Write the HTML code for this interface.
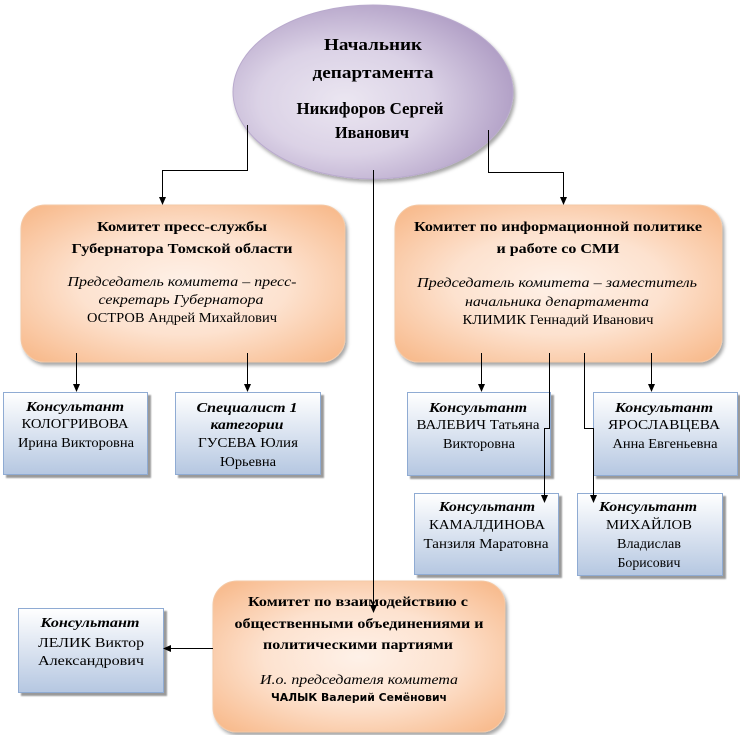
<!DOCTYPE html>
<html><head><meta charset="utf-8"><style>
html,body{margin:0;padding:0;background:#fff;}
svg{display:block;}
text{font-family:"Liberation Serif","Noto Serif CJK SC",serif;fill:#000;}
.b{font-weight:bold;}
.i{font-style:italic;}
.s{font-family:"DejaVu Sans","Liberation Sans",sans-serif;font-weight:bold;}
</style></head><body>
<svg width="740" height="735" viewBox="0 0 740 735" xmlns="http://www.w3.org/2000/svg">
<defs>
<radialGradient id="og" cx="50%" cy="50%" r="72%">
<stop offset="0" stop-color="#fef1e8"/>
<stop offset="0.45" stop-color="#fde2cf"/>
<stop offset="1" stop-color="#f7b482"/>
</radialGradient>
<radialGradient id="eg" cx="40%" cy="55%" r="62%">
<stop offset="0" stop-color="#ebe6f1"/>
<stop offset="0.5" stop-color="#dbd2e6"/>
<stop offset="1" stop-color="#b09ec5"/>
</radialGradient>
<linearGradient id="bg" x1="0" y1="0" x2="0" y2="1">
<stop offset="0" stop-color="#ffffff"/>
<stop offset="1" stop-color="#b5c7e1"/>
</linearGradient>
<filter id="sh" x="-10%" y="-10%" width="125%" height="130%">
<feDropShadow dx="2" dy="3" stdDeviation="1.8" flood-color="#000" flood-opacity="0.35"/>
</filter>
<filter id="sh2" x="-10%" y="-10%" width="125%" height="130%">
<feDropShadow dx="3" dy="3" stdDeviation="0.8" flood-color="#000" flood-opacity="0.4"/>
</filter>
</defs>

<!-- Ellipse -->
<ellipse cx="373" cy="92" rx="140" ry="87" fill="url(#eg)" stroke="#b9aacd" stroke-width="1" filter="url(#sh)"/>
<text class="b" x="373" y="50" font-size="17" text-anchor="middle" textLength="98" lengthAdjust="spacingAndGlyphs">Начальник</text>
<text class="b" x="373" y="78" font-size="17" text-anchor="middle" textLength="121" lengthAdjust="spacingAndGlyphs">департамента</text>
<text class="b" x="370" y="114" font-size="17" text-anchor="middle" textLength="147" lengthAdjust="spacingAndGlyphs">Никифоров Сергей</text>
<text class="b" x="372" y="138" font-size="17" text-anchor="middle" textLength="74" lengthAdjust="spacingAndGlyphs">Иванович</text>

<!-- Orange boxes -->
<rect x="21" y="205" width="324" height="157" rx="24" fill="url(#og)" stroke="#f4c9a6" filter="url(#sh)"/>
<rect x="395" y="205" width="327" height="157" rx="24" fill="url(#og)" stroke="#f4c9a6" filter="url(#sh)"/>
<rect x="213" y="581" width="292" height="151" rx="24" fill="url(#og)" stroke="#f4c9a6" filter="url(#sh)"/>

<!-- Left orange text -->
<text class="b" x="182" y="231" font-size="14" text-anchor="middle" textLength="170" lengthAdjust="spacingAndGlyphs">Комитет пресс-службы</text>
<text class="b" x="182" y="253" font-size="14" text-anchor="middle" textLength="221" lengthAdjust="spacingAndGlyphs">Губернатора Томской области</text>
<text class="i" x="182" y="286" font-size="14" text-anchor="middle" textLength="229" lengthAdjust="spacingAndGlyphs">Председатель комитета – пресс-</text>
<text class="i" x="181" y="304" font-size="14" text-anchor="middle" textLength="165" lengthAdjust="spacingAndGlyphs">секретарь Губернатора</text>
<text x="182" y="322" font-size="14" text-anchor="middle" textLength="190" lengthAdjust="spacingAndGlyphs">ОСТРОВ Андрей Михайлович</text>

<!-- Right orange text -->
<text class="b" x="558" y="231" font-size="14" text-anchor="middle" textLength="288" lengthAdjust="spacingAndGlyphs">Комитет по информационной политике</text>
<text class="b" x="558" y="253" font-size="14" text-anchor="middle" textLength="123" lengthAdjust="spacingAndGlyphs">и работе со СМИ</text>
<text class="i" x="557" y="287" font-size="14" text-anchor="middle" textLength="280" lengthAdjust="spacingAndGlyphs">Председатель комитета – заместитель</text>
<text class="i" x="557" y="306" font-size="14" text-anchor="middle" textLength="184" lengthAdjust="spacingAndGlyphs">начальника департамента</text>
<text x="558" y="324" font-size="14" text-anchor="middle" textLength="191" lengthAdjust="spacingAndGlyphs">КЛИМИК Геннадий Иванович</text>

<!-- Bottom orange text -->
<text class="b" x="358" y="606" font-size="14" text-anchor="middle" textLength="220" lengthAdjust="spacingAndGlyphs">Комитет по взаимодействию с</text>
<text class="b" x="359" y="628" font-size="14" text-anchor="middle" textLength="249" lengthAdjust="spacingAndGlyphs">общественными объединениями и</text>
<text class="b" x="358" y="649" font-size="14" text-anchor="middle" textLength="190" lengthAdjust="spacingAndGlyphs">политическими партиями</text>
<text class="i" x="359" y="684" font-size="14" text-anchor="middle" textLength="198" lengthAdjust="spacingAndGlyphs">И.о. председателя комитета</text>
<text class="s" x="359" y="701" font-size="11" text-anchor="middle" textLength="176" lengthAdjust="spacingAndGlyphs">ЧАЛЫК Валерий Семёнович</text>

<!-- Blue boxes -->
<g fill="url(#bg)" stroke="#8fabd3" stroke-width="1" filter="url(#sh2)">
<rect x="3.5" y="392.5" width="144" height="82"/>
<rect x="175.5" y="392.5" width="145" height="82"/>
<rect x="407.5" y="392.5" width="143" height="83"/>
<rect x="593.5" y="392.5" width="144" height="83"/>
<rect x="414.5" y="493.5" width="144" height="81"/>
<rect x="577.5" y="493.5" width="145" height="82"/>
<rect x="18.5" y="608.5" width="145" height="84"/>
</g>

<!-- Blue box texts -->
<text class="b i" x="75" y="411" font-size="14" text-anchor="middle" textLength="98" lengthAdjust="spacingAndGlyphs">Консультант</text>
<text x="75" y="428" font-size="14" text-anchor="middle" textLength="107" lengthAdjust="spacingAndGlyphs">КОЛОГРИВОВА</text>
<text x="76" y="447" font-size="14" text-anchor="middle" textLength="116" lengthAdjust="spacingAndGlyphs">Ирина Викторовна</text>

<text class="b i" x="247" y="412" font-size="14" text-anchor="middle" textLength="101" lengthAdjust="spacingAndGlyphs">Специалист 1</text>
<text class="b i" x="247" y="429" font-size="14" text-anchor="middle" textLength="73" lengthAdjust="spacingAndGlyphs">категории</text>
<text x="248" y="447" font-size="14" text-anchor="middle" textLength="100" lengthAdjust="spacingAndGlyphs">ГУСЕВА Юлия</text>
<text x="248" y="466" font-size="14" text-anchor="middle" textLength="56" lengthAdjust="spacingAndGlyphs">Юрьевна</text>

<text class="b i" x="478" y="412" font-size="14" text-anchor="middle" textLength="98" lengthAdjust="spacingAndGlyphs">Консультант</text>
<text x="478" y="429" font-size="14" text-anchor="middle" textLength="123" lengthAdjust="spacingAndGlyphs">ВАЛЕВИЧ Татьяна</text>
<text x="479" y="448" font-size="14" text-anchor="middle" textLength="72" lengthAdjust="spacingAndGlyphs">Викторовна</text>

<text class="b i" x="664" y="412" font-size="14" text-anchor="middle" textLength="98" lengthAdjust="spacingAndGlyphs">Консультант</text>
<text x="664" y="429" font-size="14" text-anchor="middle" textLength="112" lengthAdjust="spacingAndGlyphs">ЯРОСЛАВЦЕВА</text>
<text x="665" y="448" font-size="14" text-anchor="middle" textLength="105" lengthAdjust="spacingAndGlyphs">Анна Евгеньевна</text>

<text class="b i" x="487" y="511" font-size="14" text-anchor="middle" textLength="96" lengthAdjust="spacingAndGlyphs">Консультант</text>
<text x="487" y="529" font-size="14" text-anchor="middle" textLength="116" lengthAdjust="spacingAndGlyphs">КАМАЛДИНОВА</text>
<text x="486" y="548" font-size="14" text-anchor="middle" textLength="125" lengthAdjust="spacingAndGlyphs">Танзиля Маратовна</text>

<text class="b i" x="648" y="511" font-size="14" text-anchor="middle" textLength="98" lengthAdjust="spacingAndGlyphs">Консультант</text>
<text x="649" y="529" font-size="14" text-anchor="middle" textLength="86" lengthAdjust="spacingAndGlyphs">МИХАЙЛОВ</text>
<text x="649" y="548" font-size="14" text-anchor="middle" textLength="64" lengthAdjust="spacingAndGlyphs">Владислав</text>
<text x="649" y="567" font-size="14" text-anchor="middle" textLength="63" lengthAdjust="spacingAndGlyphs">Борисович</text>

<text class="b i" x="90" y="627" font-size="14" text-anchor="middle" textLength="99" lengthAdjust="spacingAndGlyphs">Консультант</text>
<text x="91" y="647" font-size="14" text-anchor="middle" textLength="106" lengthAdjust="spacingAndGlyphs">ЛЕЛИК Виктор</text>
<text x="91" y="665" font-size="14" text-anchor="middle" textLength="106" lengthAdjust="spacingAndGlyphs">Александрович</text>

<!-- Connectors -->
<g stroke="#000" stroke-width="1" fill="none">
<polyline points="247.5,125 247.5,170.5 162.5,170.5 162.5,198"/>
<polyline points="488.5,130 488.5,172.5 563.5,172.5 563.5,198"/>
<line x1="373.5" y1="170" x2="373.5" y2="606"/>
<line x1="76.5" y1="353" x2="76.5" y2="385"/>
<line x1="247.5" y1="353" x2="247.5" y2="385"/>
<line x1="481.5" y1="353" x2="481.5" y2="385"/>
<line x1="651.5" y1="353" x2="651.5" y2="385"/>
<polyline points="549.5,353 549.5,428.5 544.5,428.5 544.5,496"/>
<polyline points="584.5,353 584.5,428.5 593.5,428.5 593.5,496"/>
<line x1="213" y1="648.5" x2="170" y2="648.5"/>
</g>
<g fill="#000">
<polygon points="159,197 166,197 162.5,205"/>
<polygon points="560,197 567,197 563.5,205"/>
<polygon points="370,605 377,605 373.5,613"/>
<polygon points="73,384 80,384 76.5,392"/>
<polygon points="244,384 251,384 247.5,392"/>
<polygon points="478,384 485,384 481.5,392"/>
<polygon points="648,384 655,384 651.5,392"/>
<polygon points="541,495 548,495 544.5,503"/>
<polygon points="590,495 597,495 593.5,503"/>
<polygon points="171,645 171,652 163,648.5"/>
</g>
</svg>
</body></html>
